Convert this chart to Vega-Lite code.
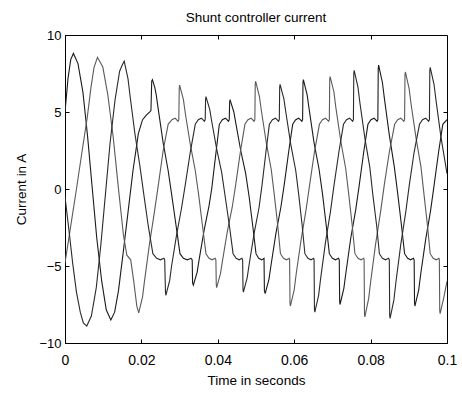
{
"$schema": "https://vega.github.io/schema/vega-lite/v6.json",
"width": 382, "height": 308,
"autosize": "none",
"padding": {"left": 65, "top": 35, "right": 15, "bottom": 50},
"background": "white",
"config": {"view": {"stroke": "black", "strokeWidth": 1}, "font": "Liberation Sans"},
"title": {"text": "Shunt controller current", "fontSize": 13.5, "fontWeight": "normal", "offset": 5, "anchor": "middle", "color": "black"},
"data": {"values": [
{"s":"A","t":0,"v":5.0},{"s":"A","t":0.0008,"v":7.2},{"s":"A","t":0.0015,"v":8.4},{"s":"A","t":0.0022,"v":8.8},{"s":"A","t":0.0034,"v":8.14},{"s":"A","t":0.0047,"v":6.27},{"s":"A","t":0.0059,"v":3.45},{"s":"A","t":0.0071,"v":0.15},{"s":"A","t":0.0083,"v":-3.15},{"s":"A","t":0.0096,"v":-5.97},{"s":"A","t":0.0108,"v":-7.84},{"s":"A","t":0.012,"v":-8.5},
{"s":"A","t":0.013,"v":-8.0},{"s":"A","t":0.014,"v":-6.6},{"s":"A","t":0.0152,"v":-4.2},{"s":"A","t":0.0165,"v":-1.5},{"s":"A","t":0.0178,"v":1.2},{"s":"A","t":0.0192,"v":3.6},{"s":"A","t":0.0203,"v":4.5},{"s":"A","t":0.0213,"v":4.8},{"s":"A","t":0.0222,"v":5.0},{"s":"A","t":0.0225,"v":5.1},{"s":"A","t":0.0227,"v":7.0},{"s":"A","t":0.0229,"v":7.1},
{"s":"A","t":0.0235,"v":6.6},{"s":"A","t":0.0239,"v":6.1},{"s":"A","t":0.0244,"v":5.2},{"s":"A","t":0.0257,"v":3.0},{"s":"A","t":0.027,"v":1.2},{"s":"A","t":0.028,"v":-0.5},{"s":"A","t":0.0292,"v":-2.6},{"s":"A","t":0.0301,"v":-4.2},{"s":"A","t":0.031,"v":-4.5},{"s":"A","t":0.032,"v":-4.6},{"s":"A","t":0.033,"v":-4.5},{"s":"A","t":0.0333,"v":-4.6},{"s":"A","t":0.0334,"v":-6.1},{"s":"A","t":0.0336,"v":-6.25},
{"s":"A","t":0.0346,"v":-5.4},{"s":"A","t":0.0351,"v":-4.6},{"s":"A","t":0.0364,"v":-2.7},{"s":"A","t":0.0377,"v":-1.1},{"s":"A","t":0.0384,"v":0},{"s":"A","t":0.0394,"v":2.1},{"s":"A","t":0.0404,"v":4.2},{"s":"A","t":0.0412,"v":4.5},{"s":"A","t":0.042,"v":4.6},{"s":"A","t":0.0428,"v":4.4},{"s":"A","t":0.043,"v":4.5},{"s":"A","t":0.0431,"v":5.6},{"s":"A","t":0.0432,"v":5.8},
{"s":"A","t":0.0442,"v":5.0},{"s":"A","t":0.0447,"v":4.3},{"s":"A","t":0.046,"v":2.5},{"s":"A","t":0.0473,"v":1.0},{"s":"A","t":0.0482,"v":-0.5},{"s":"A","t":0.0492,"v":-2.5},{"s":"A","t":0.05,"v":-4.2},{"s":"A","t":0.0507,"v":-4.5},{"s":"A","t":0.0515,"v":-4.6},{"s":"A","t":0.0521,"v":-4.5},{"s":"A","t":0.0522,"v":-6.6},{"s":"A","t":0.0524,"v":-6.8},
{"s":"A","t":0.0534,"v":-5.85},{"s":"A","t":0.0539,"v":-5.0},{"s":"A","t":0.0552,"v":-2.9},{"s":"A","t":0.0565,"v":-1.2},{"s":"A","t":0.0574,"v":0.3},{"s":"A","t":0.0586,"v":2.5},{"s":"A","t":0.0596,"v":4.2},{"s":"A","t":0.0604,"v":4.5},{"s":"A","t":0.0612,"v":4.6},{"s":"A","t":0.062,"v":4.4},{"s":"A","t":0.0622,"v":4.5},{"s":"A","t":0.0623,"v":6.9},{"s":"A","t":0.0624,"v":7.1},
{"s":"A","t":0.0634,"v":6.1},{"s":"A","t":0.0639,"v":5.2},{"s":"A","t":0.0652,"v":3.0},{"s":"A","t":0.0665,"v":1.3},{"s":"A","t":0.0674,"v":-0.3},{"s":"A","t":0.0684,"v":-2.4},{"s":"A","t":0.0692,"v":-4.2},{"s":"A","t":0.07,"v":-4.5},{"s":"A","t":0.0708,"v":-4.6},{"s":"A","t":0.0716,"v":-4.5},{"s":"A","t":0.0718,"v":-4.6},{"s":"A","t":0.0719,"v":-7.3},{"s":"A","t":0.072,"v":-7.5},
{"s":"A","t":0.073,"v":-6.45},{"s":"A","t":0.0735,"v":-5.5},{"s":"A","t":0.0748,"v":-3.2},{"s":"A","t":0.0761,"v":-1.35},{"s":"A","t":0.077,"v":0.2},{"s":"A","t":0.0782,"v":2.4},{"s":"A","t":0.0793,"v":4.2},{"s":"A","t":0.0801,"v":4.5},{"s":"A","t":0.0809,"v":4.6},{"s":"A","t":0.0817,"v":4.4},{"s":"A","t":0.0819,"v":4.5},{"s":"A","t":0.082,"v":7.8},{"s":"A","t":0.0821,"v":8.05},
{"s":"A","t":0.0831,"v":6.9},{"s":"A","t":0.0836,"v":5.9},{"s":"A","t":0.0849,"v":3.5},{"s":"A","t":0.0862,"v":1.45},{"s":"A","t":0.0871,"v":-0.3},{"s":"A","t":0.0881,"v":-2.4},{"s":"A","t":0.0889,"v":-4.2},{"s":"A","t":0.0897,"v":-4.5},{"s":"A","t":0.0905,"v":-4.6},{"s":"A","t":0.0912,"v":-4.5},{"s":"A","t":0.0914,"v":-4.6},{"s":"A","t":0.0915,"v":-7.4},{"s":"A","t":0.0916,"v":-7.6},
{"s":"A","t":0.0926,"v":-6.55},{"s":"A","t":0.0931,"v":-5.55},{"s":"A","t":0.0944,"v":-3.3},{"s":"A","t":0.0957,"v":-1.4},{"s":"A","t":0.0966,"v":0.2},{"s":"A","t":0.0978,"v":2.4},{"s":"A","t":0.0989,"v":4.2},{"s":"A","t":0.1,"v":4.5},
{"s":"B","t":0,"v":-4.8},{"s":"B","t":0.001,"v":-3.2},{"s":"B","t":0.002,"v":-1.6},{"s":"B","t":0.003,"v":0},{"s":"B","t":0.0045,"v":2.5},{"s":"B","t":0.0058,"v":4.6},{"s":"B","t":0.0068,"v":6.6},{"s":"B","t":0.0076,"v":7.9},{"s":"B","t":0.0085,"v":8.55},{"s":"B","t":0.0099,"v":7.92},{"s":"B","t":0.0112,"v":6.13},{"s":"B","t":0.0126,"v":3.42},{"s":"B","t":0.0139,"v":0.25},{"s":"B","t":0.0153,"v":-3.0},{"s":"B","t":0.0162,"v":-4.3},{"s":"B","t":0.0172,"v":-4.6},{"s":"B","t":0.018,"v":-6.0},{"s":"B","t":0.0188,"v":-7.6},{"s":"B","t":0.0193,"v":-8.05},
{"s":"B","t":0.0203,"v":-7.0},{"s":"B","t":0.0208,"v":-6.0},{"s":"B","t":0.0221,"v":-3.6},{"s":"B","t":0.0234,"v":-1.5},{"s":"B","t":0.0244,"v":0.2},{"s":"B","t":0.0257,"v":2.5},{"s":"B","t":0.027,"v":4.2},{"s":"B","t":0.028,"v":4.5},{"s":"B","t":0.0288,"v":4.6},{"s":"B","t":0.0296,"v":4.4},{"s":"B","t":0.0298,"v":4.5},{"s":"B","t":0.0299,"v":6.5},{"s":"B","t":0.03,"v":6.75},
{"s":"B","t":0.031,"v":5.8},{"s":"B","t":0.0315,"v":4.9},{"s":"B","t":0.0328,"v":2.9},{"s":"B","t":0.0341,"v":1.2},{"s":"B","t":0.035,"v":-0.4},{"s":"B","t":0.036,"v":-2.4},{"s":"B","t":0.0369,"v":-4.2},{"s":"B","t":0.0377,"v":-4.5},{"s":"B","t":0.0385,"v":-4.6},{"s":"B","t":0.0393,"v":-4.5},{"s":"B","t":0.0395,"v":-4.6},{"s":"B","t":0.0396,"v":-6.2},{"s":"B","t":0.0397,"v":-6.4},
{"s":"B","t":0.0407,"v":-5.5},{"s":"B","t":0.0412,"v":-4.7},{"s":"B","t":0.0425,"v":-2.75},{"s":"B","t":0.0438,"v":-1.15},{"s":"B","t":0.0447,"v":0.3},{"s":"B","t":0.0459,"v":2.4},{"s":"B","t":0.0471,"v":4.2},{"s":"B","t":0.0479,"v":4.5},{"s":"B","t":0.0487,"v":4.6},{"s":"B","t":0.0495,"v":4.4},{"s":"B","t":0.0497,"v":4.5},{"s":"B","t":0.0498,"v":6.8},{"s":"B","t":0.0499,"v":7.0},
{"s":"B","t":0.0509,"v":6.0},{"s":"B","t":0.0514,"v":5.1},{"s":"B","t":0.0527,"v":3.0},{"s":"B","t":0.054,"v":1.25},{"s":"B","t":0.0548,"v":-0.4},{"s":"B","t":0.0557,"v":-2.4},{"s":"B","t":0.0564,"v":-4.2},{"s":"B","t":0.0572,"v":-4.5},{"s":"B","t":0.058,"v":-4.6},{"s":"B","t":0.0587,"v":-4.5},{"s":"B","t":0.0588,"v":-4.6},{"s":"B","t":0.0589,"v":-7.4},{"s":"B","t":0.059,"v":-7.6},
{"s":"B","t":0.06,"v":-6.55},{"s":"B","t":0.0605,"v":-5.55},{"s":"B","t":0.0618,"v":-3.3},{"s":"B","t":0.0631,"v":-1.35},{"s":"B","t":0.064,"v":0.2},{"s":"B","t":0.0653,"v":2.4},{"s":"B","t":0.0666,"v":4.2},{"s":"B","t":0.0674,"v":4.5},{"s":"B","t":0.0682,"v":4.6},{"s":"B","t":0.069,"v":4.4},{"s":"B","t":0.0692,"v":4.5},{"s":"B","t":0.0693,"v":7.1},{"s":"B","t":0.0694,"v":7.3},
{"s":"B","t":0.0704,"v":6.3},{"s":"B","t":0.0709,"v":5.3},{"s":"B","t":0.0722,"v":3.1},{"s":"B","t":0.0735,"v":1.3},{"s":"B","t":0.0743,"v":-0.4},{"s":"B","t":0.0752,"v":-2.4},{"s":"B","t":0.0759,"v":-4.2},{"s":"B","t":0.0767,"v":-4.5},{"s":"B","t":0.0775,"v":-4.6},{"s":"B","t":0.0782,"v":-4.5},{"s":"B","t":0.0783,"v":-4.6},{"s":"B","t":0.0784,"v":-8.1},{"s":"B","t":0.0785,"v":-8.3},
{"s":"B","t":0.0795,"v":-7.1},{"s":"B","t":0.08,"v":-6.05},{"s":"B","t":0.0813,"v":-3.6},{"s":"B","t":0.0826,"v":-1.5},{"s":"B","t":0.0836,"v":0.3},{"s":"B","t":0.0849,"v":2.4},{"s":"B","t":0.0863,"v":4.2},{"s":"B","t":0.0871,"v":4.5},{"s":"B","t":0.0879,"v":4.6},{"s":"B","t":0.0887,"v":4.4},{"s":"B","t":0.0889,"v":4.5},{"s":"B","t":0.089,"v":7.4},{"s":"B","t":0.0891,"v":7.6},
{"s":"B","t":0.0901,"v":6.5},{"s":"B","t":0.0906,"v":5.5},{"s":"B","t":0.0919,"v":3.3},{"s":"B","t":0.0932,"v":1.4},{"s":"B","t":0.094,"v":-0.4},{"s":"B","t":0.0949,"v":-2.4},{"s":"B","t":0.0956,"v":-4.2},{"s":"B","t":0.0964,"v":-4.5},{"s":"B","t":0.0972,"v":-4.6},{"s":"B","t":0.0979,"v":-4.5},{"s":"B","t":0.098,"v":-4.6},{"s":"B","t":0.0981,"v":-7.9},{"s":"B","t":0.0982,"v":-8.1},
{"s":"B","t":0.0992,"v":-7.0},{"s":"B","t":0.1,"v":-6.0},
{"s":"C","t":0,"v":-0.5},{"s":"C","t":0.001,"v":-2.6},{"s":"C","t":0.002,"v":-4.8},{"s":"C","t":0.003,"v":-6.7},{"s":"C","t":0.004,"v":-8.0},{"s":"C","t":0.0048,"v":-8.7},{"s":"C","t":0.0057,"v":-8.9},{"s":"C","t":0.0069,"v":-8.25},{"s":"C","t":0.0082,"v":-6.39},{"s":"C","t":0.0094,"v":-3.59},{"s":"C","t":0.0106,"v":-0.3},{"s":"C","t":0.0118,"v":2.99},{"s":"C","t":0.0131,"v":5.79},{"s":"C","t":0.0143,"v":7.65},{"s":"C","t":0.0149,"v":8.0},{"s":"C","t":0.0155,"v":8.3},
{"s":"C","t":0.0165,"v":7.15},{"s":"C","t":0.017,"v":6.1},{"s":"C","t":0.0183,"v":3.6},{"s":"C","t":0.0196,"v":1.5},{"s":"C","t":0.0206,"v":-0.3},{"s":"C","t":0.0218,"v":-2.4},{"s":"C","t":0.023,"v":-4.2},{"s":"C","t":0.024,"v":-4.5},{"s":"C","t":0.025,"v":-4.6},{"s":"C","t":0.0259,"v":-4.5},{"s":"C","t":0.0261,"v":-4.6},{"s":"C","t":0.0263,"v":-6.7},{"s":"C","t":0.0264,"v":-6.9},
{"s":"C","t":0.0274,"v":-5.95},{"s":"C","t":0.0279,"v":-5.0},{"s":"C","t":0.0292,"v":-3.0},{"s":"C","t":0.0305,"v":-1.25},{"s":"C","t":0.0315,"v":0.3},{"s":"C","t":0.0328,"v":2.4},{"s":"C","t":0.0341,"v":4.2},{"s":"C","t":0.0349,"v":4.5},{"s":"C","t":0.0357,"v":4.6},{"s":"C","t":0.0365,"v":4.4},{"s":"C","t":0.0367,"v":4.5},{"s":"C","t":0.0368,"v":5.8},{"s":"C","t":0.0369,"v":6.0},
{"s":"C","t":0.0379,"v":5.15},{"s":"C","t":0.0384,"v":4.4},{"s":"C","t":0.0397,"v":2.6},{"s":"C","t":0.041,"v":1.1},{"s":"C","t":0.042,"v":-0.6},{"s":"C","t":0.0431,"v":-2.5},{"s":"C","t":0.044,"v":-4.2},{"s":"C","t":0.0448,"v":-4.5},{"s":"C","t":0.0456,"v":-4.6},{"s":"C","t":0.0463,"v":-4.5},{"s":"C","t":0.0465,"v":-4.6},{"s":"C","t":0.0466,"v":-6.5},{"s":"C","t":0.0467,"v":-6.7},
{"s":"C","t":0.0477,"v":-5.75},{"s":"C","t":0.0482,"v":-4.9},{"s":"C","t":0.0495,"v":-2.9},{"s":"C","t":0.0508,"v":-1.2},{"s":"C","t":0.0516,"v":0.3},{"s":"C","t":0.0526,"v":2.4},{"s":"C","t":0.0535,"v":4.2},{"s":"C","t":0.0543,"v":4.5},{"s":"C","t":0.0551,"v":4.6},{"s":"C","t":0.0559,"v":4.4},{"s":"C","t":0.0561,"v":4.5},{"s":"C","t":0.0562,"v":6.6},{"s":"C","t":0.0563,"v":6.8},
{"s":"C","t":0.0573,"v":5.85},{"s":"C","t":0.0578,"v":5.0},{"s":"C","t":0.0591,"v":2.9},{"s":"C","t":0.0604,"v":1.2},{"s":"C","t":0.0612,"v":-0.4},{"s":"C","t":0.0621,"v":-2.4},{"s":"C","t":0.0628,"v":-4.2},{"s":"C","t":0.0636,"v":-4.5},{"s":"C","t":0.0644,"v":-4.6},{"s":"C","t":0.0651,"v":-4.5},{"s":"C","t":0.0652,"v":-4.6},{"s":"C","t":0.0653,"v":-7.8},{"s":"C","t":0.0654,"v":-8.0},
{"s":"C","t":0.0664,"v":-6.9},{"s":"C","t":0.0669,"v":-5.85},{"s":"C","t":0.0682,"v":-3.45},{"s":"C","t":0.0695,"v":-1.45},{"s":"C","t":0.0704,"v":0.2},{"s":"C","t":0.0717,"v":2.4},{"s":"C","t":0.0729,"v":4.2},{"s":"C","t":0.0737,"v":4.5},{"s":"C","t":0.0745,"v":4.6},{"s":"C","t":0.0753,"v":4.4},{"s":"C","t":0.0755,"v":4.5},{"s":"C","t":0.0756,"v":7.5},{"s":"C","t":0.0757,"v":7.7},
{"s":"C","t":0.0767,"v":6.6},{"s":"C","t":0.0772,"v":5.6},{"s":"C","t":0.0785,"v":3.3},{"s":"C","t":0.0798,"v":1.4},{"s":"C","t":0.0806,"v":-0.4},{"s":"C","t":0.0816,"v":-2.4},{"s":"C","t":0.0823,"v":-4.2},{"s":"C","t":0.0831,"v":-4.5},{"s":"C","t":0.0839,"v":-4.6},{"s":"C","t":0.0847,"v":-4.5},{"s":"C","t":0.0849,"v":-4.6},{"s":"C","t":0.085,"v":-8.2},{"s":"C","t":0.0851,"v":-8.4},
{"s":"C","t":0.0861,"v":-7.2},{"s":"C","t":0.0866,"v":-6.1},{"s":"C","t":0.0879,"v":-3.6},{"s":"C","t":0.0892,"v":-1.5},{"s":"C","t":0.0901,"v":0.2},{"s":"C","t":0.0914,"v":2.4},{"s":"C","t":0.0928,"v":4.2},{"s":"C","t":0.0936,"v":4.5},{"s":"C","t":0.0944,"v":4.6},{"s":"C","t":0.0952,"v":4.4},{"s":"C","t":0.0954,"v":4.5},{"s":"C","t":0.0955,"v":7.7},{"s":"C","t":0.0956,"v":7.9},
{"s":"C","t":0.0966,"v":6.8},{"s":"C","t":0.0971,"v":5.8},{"s":"C","t":0.0984,"v":3.4},{"s":"C","t":0.0997,"v":1.45},{"s":"C","t":0.1,"v":1.0}
]},
"layer": [
{"mark": {"type": "line", "strokeWidth": 1.1, "clip": true},
 "encoding": {
  "x": {"field": "t", "type": "quantitative", "scale": {"domain": [0, 0.1], "nice": false, "zero": false},
        "axis": {"orient": "bottom", "values": [0, 0.02, 0.04, 0.06, 0.08, 0.1], "format": "~g", "title": "Time in seconds", "grid": false, "tickSize": -4, "labelPadding": 14, "labelFlush": false, "labelFontSize": 14, "titleFontSize": 13.5, "titleFontWeight": "normal", "titlePadding": 6, "domainColor": "black", "tickColor": "black", "labelColor": "black", "titleColor": "black"}},
  "y": {"field": "v", "type": "quantitative", "scale": {"domain": [-10, 10], "nice": false},
        "axis": {"orient": "left", "values": [-10, -5, 0, 5, 10], "title": "Current in A", "grid": false, "tickSize": -4, "labelPadding": 8, "labelFontSize": 13, "titleFontSize": 13.5, "titleFontWeight": "normal", "titlePadding": 10, "domainColor": "black", "tickColor": "black", "labelColor": "black", "titleColor": "black"}},
  "color": {"field": "s", "type": "nominal", "scale": {"domain": ["A", "B", "C"], "range": ["#1a1a1a", "#5a5a5a", "#2a2a2a"]}, "legend": null}
 }},
{"mark": {"type": "point", "opacity": 0},
 "encoding": {
  "x": {"field": "t", "type": "quantitative", "axis": {"orient": "top", "values": [0.02, 0.04, 0.06, 0.08], "labels": false, "title": null, "grid": false, "tickSize": -4, "domain": false, "tickColor": "black"}},
  "y": {"field": "v", "type": "quantitative", "axis": {"orient": "right", "values": [-5, 0, 5], "labels": false, "title": null, "grid": false, "tickSize": -4, "domain": false, "tickColor": "black"}}
 }}
],
"resolve": {"axis": {"x": "independent", "y": "independent"}}
}
